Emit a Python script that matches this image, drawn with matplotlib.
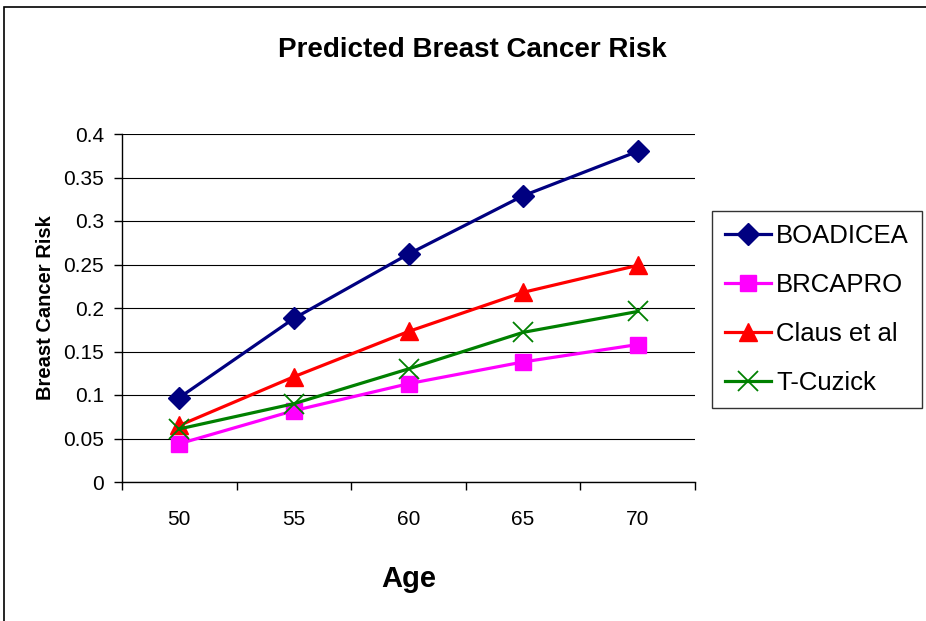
import matplotlib.pyplot as plt
from matplotlib.patches import Rectangle

# data
ages = [50, 55, 60, 65, 70]
boadicea = [0.097, 0.188, 0.262, 0.329, 0.380]
brcapro = [0.044, 0.082, 0.113, 0.138, 0.158]
claus = [0.065, 0.121, 0.173, 0.218, 0.249]
tcuzick = [0.061, 0.090, 0.130, 0.172, 0.196]
yticks = [0, 0.05, 0.1, 0.15, 0.2, 0.25, 0.3, 0.35, 0.4]

plt.rcParams['font.family'] = ['Liberation Sans', 'DejaVu Sans']

fig = plt.figure(figsize=(9.26, 6.21), dpi=100)
# outer chart frame (right and bottom edges run off the picture)
fig.patches.append(Rectangle((4 / 926, -0.1), 1.1, (621 - 7) / 621 + 0.1,
                             transform=fig.transFigure, fill=False,
                             edgecolor='black', linewidth=1.2))

ax = fig.add_axes([122 / 926, 1 - 482 / 621, (695 - 122) / 926, (482 - 134) / 621])

x = list(range(len(ages)))
ax.plot(x, boadicea, color='#000080', lw=2.3, marker='D', ms=11, label='BOADICEA')
ax.plot(x, brcapro, color='#FF00FF', lw=2.3, marker='s', ms=11, label='BRCAPRO')
ax.plot(x, claus, color='#FF0000', lw=2.3, marker='^', ms=13, label='Claus et al')
ax.plot(x, tcuzick, color='#008000', lw=2.3, marker='x', ms=14, mew=1.3, label='T-Cuzick')

ax.set_xlim(-0.5, len(ages) - 0.5)
ax.set_ylim(0, 0.4)
ax.set_yticks(yticks)
ax.set_yticklabels([f'{v:g}' for v in yticks], fontsize=15)
ax.set_xticks(x)
ax.set_xticklabels([str(a) for a in ages], fontsize=15)
ax.tick_params(axis='x', which='major', length=0, pad=20)
ax.set_xticks([i - 0.5 for i in range(len(ages) + 1)], minor=True)
ax.tick_params(axis='x', which='minor', length=6, width=1, direction='out')
ax.tick_params(axis='y', length=6, width=1, direction='out', pad=7)

ax.grid(axis='y', color='black', lw=0.8)
ax.set_axisbelow(True)
for s in ['top', 'right']:
    ax.spines[s].set_visible(False)
for s in ['left', 'bottom']:
    ax.spines[s].set_linewidth(1)

ax.set_xlabel('Age', fontsize=21, fontweight='bold', labelpad=26)
ax.set_ylabel('Breast Cancer Risk', fontsize=14.5, fontweight='bold', labelpad=6)
fig.text(472 / 926, 1 - 50 / 621, 'Predicted Breast Cancer Risk', ha='center', va='center',
         fontsize=20, fontweight='bold')

leg = fig.legend(loc='upper left', bbox_to_anchor=(712 / 926, 1 - 211 / 621),
                 fontsize=18.5, frameon=True, fancybox=False, edgecolor='black',
                 handlelength=1.8, handletextpad=0.2, labelspacing=0.98,
                 borderpad=0.5, borderaxespad=0)
leg.get_frame().set_linewidth(1)

fig.savefig('out.png', dpi=100)
